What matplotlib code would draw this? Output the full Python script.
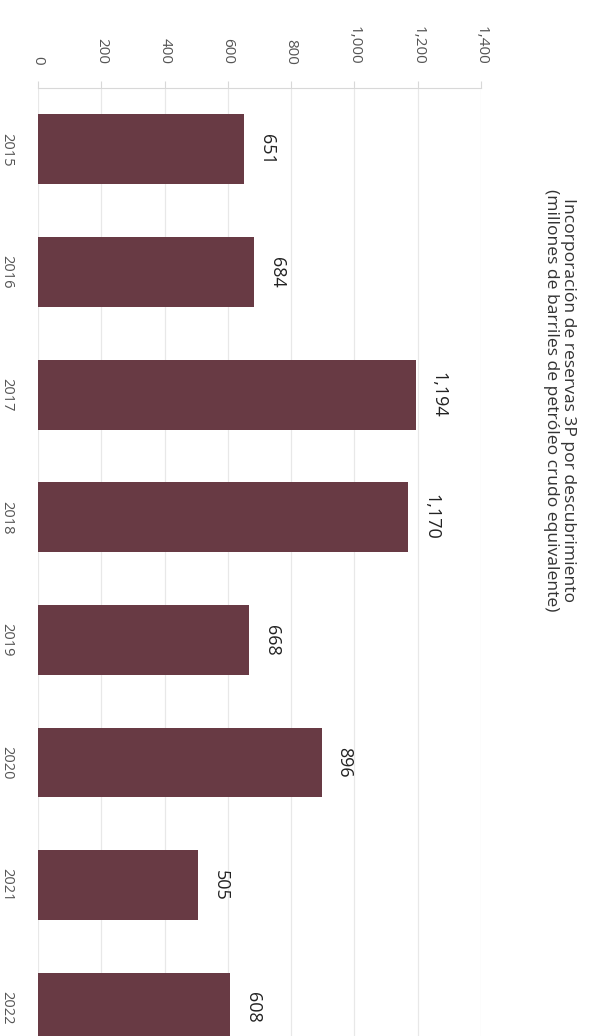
import matplotlib.pyplot as plt

years = ['2015', '2016', '2017', '2018', '2019', '2020', '2021', '2022']
valores = [651, 684, 1194, 1170, 668, 896, 505, 608]
ticks = [0, 200, 400, 600, 800, 1000, 1200, 1400]
titulo = 'Incorporación de reservas 3P por descubrimiento\n(millones de barriles de petróleo crudo equivalente)'

plt.rcParams['font.family'] = ['Open Sans', 'DejaVu Sans']

fig = plt.figure(figsize=(5.96, 10.36), dpi=100)
ax = fig.add_axes([0.064, 0.0, 0.743, 0.915])

pos = list(range(len(years)))
bars = ax.barh(pos, valores, height=0.57, color='#683a44')
ax.set_ylim(7.23, -0.5)
ax.set_xlim(0, 1400)

# valores al final de cada barra
ax.bar_label(bars, labels=[f'{v:,}' for v in valores], padding=10,
             rotation=-90, fontsize=13, color='#222222')

ax.xaxis.tick_top()
ax.set_xticks(ticks)
ax.set_xticklabels([f'{t:,}' for t in ticks], rotation=-90, va='bottom',
                   ha='center', fontsize=11, color='#555555')
ax.tick_params(axis='x', length=5, color='#d8d8d8', pad=12)
ax.set_yticks(pos)
ax.set_yticklabels(years, rotation=-90, va='center', ha='right',
                   fontsize=10.5, color='#555555')
ax.tick_params(axis='y', length=0, pad=17)

ax.grid(axis='x', color='#e8e8e8', linewidth=0.9)
ax.set_axisbelow(True)
for s in ['left', 'right', 'bottom']:
    ax.spines[s].set_visible(False)
ax.spines['top'].set_color('#d8d8d8')

fig.text(0.939, 0.614, titulo, rotation=-90, ha='center', va='center',
         multialignment='center', fontsize=12.6, color='#333333',
         linespacing=1.05)

fig.savefig('out.png', dpi=100)
